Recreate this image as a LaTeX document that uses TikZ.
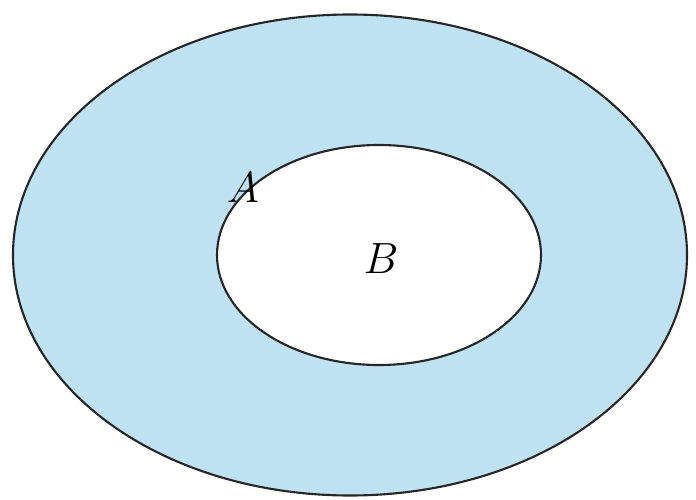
\documentclass[tikz,border=0pt]{standalone}
\usetikzlibrary{shapes.geometric, positioning}
\definecolor{setblue}{RGB}{190,226,242}

\begin{document}
\begin{tikzpicture}[
    setring/.style={ellipse, draw=black!85, line width=1.2pt,
                    inner sep=0pt},
    setlbl/.style={font=\fontsize{37}{42}\selectfont, inner sep=0pt},
]

% --- 画布边界 ---
\useasboundingbox (0,0) rectangle (13.92,9.98);

% --- 外集合 A ---
\node (outerA) [setring, fill=setblue,
    minimum width=13.48cm, minimum height=9.62cm] at (7.0, 4.88) {};

% --- 内集合 B ---
\node (innerB) [setring, fill=white,
    minimum width=6.48cm, minimum height=4.40cm] at (7.58, 4.88) {};

% --- 标签 ---
\node (lblA) [setlbl] at (4.86, 6.22) {$A$};
\node (lblB) [setlbl] at (7.62, 4.80) {$B$};

\end{tikzpicture}
\end{document}
